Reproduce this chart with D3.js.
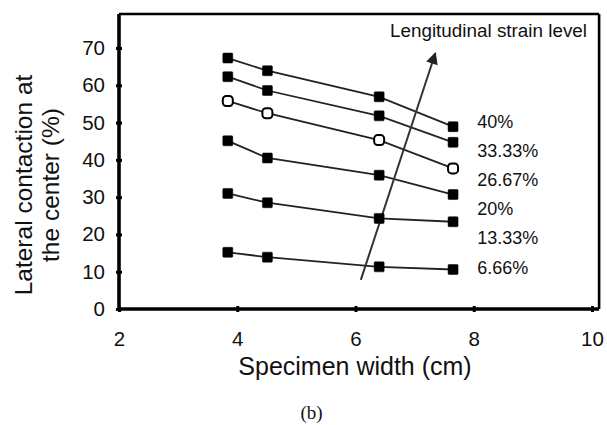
<!DOCTYPE html>
<html>
<head>
<meta charset="utf-8">
<script src="https://cdn.jsdelivr.net/npm/d3@7"></script>
<style>
html,body{margin:0;padding:0;background:#fff;}
svg{display:block;}
text{font-family:Arial,"Liberation Sans",sans-serif;fill:#111;}
</style>
</head>
<body>
<svg id="chart" width="607" height="425"></svg>
<script>
// ---- data ----
const widths = [3.84, 4.51, 6.40, 7.65];
const strainLevels = ["40%", "33.33%", "26.67%", "20%", "13.33%", "6.66%"];
const s40    = [67.3, 63.9, 56.9, 48.9];
const s3333  = [62.3, 58.6, 51.8, 44.7];
const s2667  = [55.8, 52.5, 45.3, 37.7];
const s20    = [45.1, 40.5, 35.9, 30.7];
const s1333  = [31.0, 28.5, 24.3, 23.4];
const s666   = [15.2, 13.9, 11.3, 10.6];
const seriesValues = [s40, s3333, s2667, s20, s1333, s666];
const openMarker = [false, false, true, false, false, false];
const xTicks = [2, 4, 6, 8, 10];
const yTicks = [0, 10, 20, 30, 40, 50, 60, 70];
const labelY = [50.1, 42.4, 34.6, 26.8, 19.0, 11.0];   // label anchor (data units)
const labelX = 8.06;
const arrowFrom = [6.09, 7.8];
const arrowTo = [7.35, 68.6];
const xMax = 10.12, yMax = 79.1;

// ---- chart ----
const svg = d3.select("#chart");
const x = d3.scaleLinear().domain([2, 10]).range([119, 592]);
const y = d3.scaleLinear().domain([0, 70]).range([309, 48]);

// frame top & right
svg.append("line").attr("x1", x(2)).attr("x2", x(xMax)).attr("y1", y(yMax)).attr("y2", y(yMax))
  .attr("stroke", "#000").attr("stroke-width", 2.6);
svg.append("line").attr("x1", x(xMax)).attr("x2", x(xMax)).attr("y1", y(yMax)).attr("y2", y(0))
  .attr("stroke", "#000").attr("stroke-width", 2.6);

// x axis
const xAxis = d3.axisBottom(x).tickValues(xTicks).tickFormat(d3.format("d")).tickSize(0).tickPadding(22);
const gx = svg.append("g").attr("transform", `translate(0,${y(0)})`).call(xAxis);
gx.select(".domain").attr("stroke", "#000").attr("stroke-width", 3.6).attr("d", `M${x(2)},0H${x(xMax)}`);
gx.selectAll("text").style("font-size", "20.5px").attr("fill", "#111").attr("font-family", "Arial, 'Liberation Sans', sans-serif");
gx.selectAll(".tick").append("line").attr("y1", -3).attr("y2", 3).attr("stroke", "#000").attr("stroke-width", 3);

// y axis
const yAxis = d3.axisLeft(y).tickValues(yTicks).tickFormat(d3.format("d")).tickSize(0).tickPadding(14);
const gy = svg.append("g").attr("transform", `translate(${x(2)},0)`).call(yAxis);
gy.select(".domain").attr("stroke", "#000").attr("stroke-width", 3.6).attr("d", `M0,${y(0)}V${y(yMax)}`);
gy.selectAll("text").style("font-size", "20.5px").attr("fill", "#111").attr("font-family", "Arial, 'Liberation Sans', sans-serif");
gy.selectAll(".tick").append("line").attr("x1", -3).attr("x2", 3).attr("stroke", "#000").attr("stroke-width", 3);

// series
const line = d3.line().x((d, i) => x(widths[i])).y(d => y(d));
seriesValues.forEach((vals, k) => {
  svg.append("path").datum(vals).attr("d", line)
    .attr("fill", "none").attr("stroke", "#222").attr("stroke-width", 1.8);
});

// arrow
svg.append("defs").append("marker").attr("id", "ah")
  .attr("viewBox", "0 0 10 10").attr("refX", 9).attr("refY", 5)
  .attr("markerWidth", 7).attr("markerHeight", 6).attr("markerUnits", "strokeWidth")
  .attr("orient", "auto")
  .append("path").attr("d", "M0,0L10,5L0,10Z").attr("fill", "#222");
svg.append("line")
  .attr("x1", x(arrowFrom[0])).attr("y1", y(arrowFrom[1]))
  .attr("x2", x(arrowTo[0])).attr("y2", y(arrowTo[1]))
  .attr("stroke", "#333").attr("stroke-width", 2).attr("marker-end", "url(#ah)");

// markers
seriesValues.forEach((vals, k) => {
  svg.append("g").selectAll("rect").data(vals).join("rect")
    .attr("x", (d, i) => x(widths[i]) - 5).attr("y", d => y(d) - 5)
    .attr("width", 10).attr("height", 10)
    .attr("rx", openMarker[k] ? 3.5 : 1)
    .attr("fill", openMarker[k] ? "#fff" : "#000")
    .attr("stroke", "#000").attr("stroke-width", openMarker[k] ? 2 : 0.5);
});

// strain labels
svg.append("g").selectAll("text").data(strainLevels).join("text")
  .attr("x", x(labelX)).attr("y", (d, i) => y(labelY[i]))
  .attr("dy", "0.35em").style("font-size", "18px").text(d => d);

svg.append("text").attr("x", 390).attr("y", 37)
  .attr("textLength", 197).attr("lengthAdjust", "spacingAndGlyphs")
  .style("font-size", "17.5px").text("Lengitudinal strain level");

// axis titles
svg.append("text").attr("x", 355).attr("y", 375).attr("text-anchor", "middle")
  .style("font-size", "25px").text("Specimen width (cm)");
const yt = svg.append("text").attr("transform", "translate(32,185) rotate(-90)")
  .attr("text-anchor", "middle").style("font-size", "24.5px");
yt.append("tspan").attr("x", 0).attr("dy", 0).text("Lateral contaction at");
yt.append("tspan").attr("x", 0).attr("dy", 27).text("the center (%)");

// caption
svg.append("text").attr("x", 311.5).attr("y", 419).attr("text-anchor", "middle")
  .style("font-size", "19px").style("font-family", "'Liberation Serif','Times New Roman',serif").text("(b)");
</script>
</body>
</html>
